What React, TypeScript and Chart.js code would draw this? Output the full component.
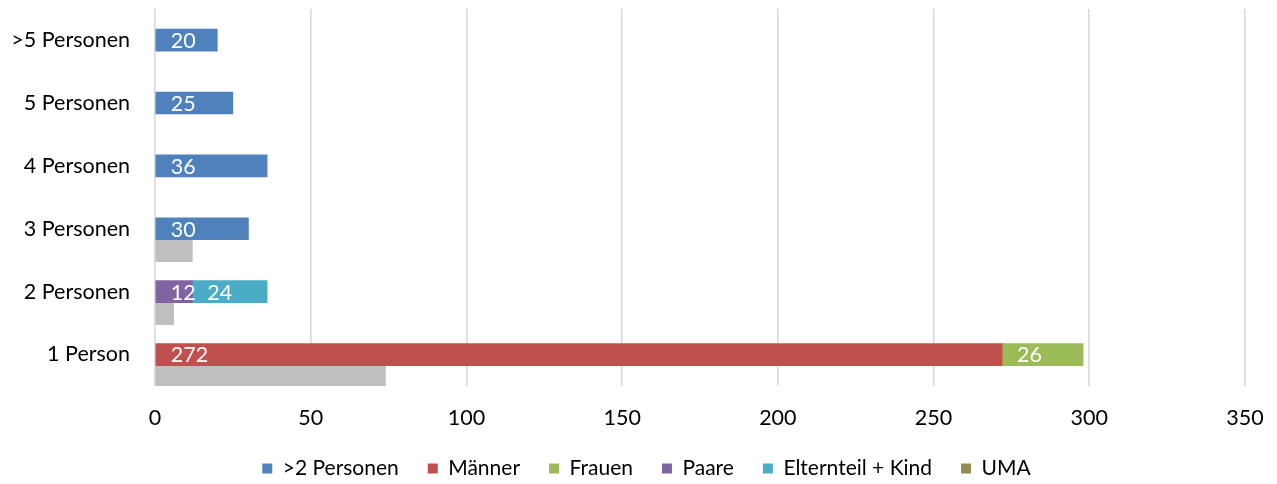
import React, { useEffect, useRef } from "react";
import { Chart, registerables } from "chart.js";

Chart.register(...registerables);

const categories = [">5 Personen", "5 Personen", "4 Personen", "3 Personen", "2 Personen", "1 Person"];
const seriesNames = [">2 Personen", "Männer", "Frauen", "Paare", "Elternteil + Kind", "UMA"];
const mehrPersonen = [20, 25, 36, 30, null, null];
const maenner = [null, null, null, null, null, 272];
const frauen = [null, null, null, null, null, 26];
const paare = [null, null, null, null, 12, null];
const elternteilKind = [null, null, null, null, 24, null];
const uma = [null, null, null, null, null, null];
const grau = [null, null, null, 12, 6, 74];
const seriesColors = ["#4F81BD", "#C0504D", "#9BBB59", "#8064A2", "#4BACC6", "#948A54"];
const greyColor = "#BFBFBF";
const xMin = 0;
const xMax = 350;
const xStep = 50;

const FONT = "Lato";
const FONT_SIZE = 21.5;
const LEGEND_FONT_SIZE = 21;

const labelPlugin = {
  id: "insideBaseLabels",
  afterDatasetsDraw(chart: any) {
    const ctx = chart.ctx;
    ctx.save();
    ctx.font = `${FONT_SIZE}px ${FONT}`;
    ctx.fillStyle = "#FFFFFF";
    ctx.textAlign = "left";
    ctx.textBaseline = "middle";
    chart.data.datasets.forEach((ds: any, di: number) => {
      if (!ds.showValueLabels) return;
      const meta = chart.getDatasetMeta(di);
      if (meta.hidden) return;
      meta.data.forEach((bar: any, i: number) => {
        const v = ds.data[i];
        if (v === null || v === undefined) return;
        const p = bar.getProps(["x", "y", "base"], true);
        ctx.fillText(String(v), Math.min(p.x, p.base) + 15, p.y + 1);
      });
    });
    ctx.restore();
  },
};

const legendShift = {
  id: "legendShift",
  afterLayout(chart: any) {
    const lg = chart.legend;
    if (lg) {
      lg.left += 24;
      lg.right += 24;
    }
  },
};

export default function App() {
  const canvasRef = useRef<HTMLCanvasElement | null>(null);

  useEffect(() => {
    if (!canvasRef.current) return;
    const values = [mehrPersonen, maenner, frauen, paare, elternteilKind, uma];
    const datasets: any[] = [
      { label: "__pad", data: [], stack: "pad", backgroundColor: "transparent", borderWidth: 0 },
      ...seriesNames.map((name, i) => ({
        label: name,
        data: values[i],
        stack: "main",
        backgroundColor: seriesColors[i],
        borderWidth: 0,
        showValueLabels: true,
      })),
      { label: "__grau", data: grau, stack: "grau", backgroundColor: greyColor, borderWidth: 0 },
    ];

    const chart = new Chart(canvasRef.current, {
      type: "bar",
      data: { labels: categories, datasets },
      options: {
        indexAxis: "y",
        animation: false,
        responsive: true,
        maintainAspectRatio: false,
        datasets: { bar: { barThickness: 22 } },
        layout: { padding: { left: 0, right: 32, top: 8.7, bottom: -5 } },
        scales: {
          x: {
            stacked: true,
            min: xMin,
            max: xMax,
            ticks: { stepSize: xStep, color: "#000", font: { family: FONT, size: FONT_SIZE }, padding: 19 },
            grid: { color: "#D9D9D9", lineWidth: 1.6, drawTicks: false },
            border: { display: false },
            afterFit: (s: any) => {
              s.height = 43;
              s.paddingLeft = 0;
              s.paddingRight = 0;
            },
          },
          y: {
            ticks: { color: "#000", font: { family: FONT, size: FONT_SIZE }, padding: 25 },
            grid: { display: false, drawTicks: false },
            border: { display: false },
            afterFit: (s: any) => {
              s.width = 155;
              s.paddingTop = 0;
              s.paddingBottom = 0;
            },
          },
        },
        plugins: {
          legend: {
            position: "bottom",
            labels: {
              color: "#000",
              font: { family: FONT, size: LEGEND_FONT_SIZE },
              boxWidth: 10,
              boxHeight: 10,
              padding: 29,
              filter: (item: any) => !String(item.text).startsWith("__"),
            },
          },
          tooltip: { enabled: false },
        },
      },
      plugins: [labelPlugin, legendShift],
    });
    return () => chart.destroy();
  }, []);

  return (
    <div style={{ position: "fixed", left: 0, top: 0, width: 1277, height: 484, background: "#fff" }}>
      <canvas ref={canvasRef} />
    </div>
  );
}
